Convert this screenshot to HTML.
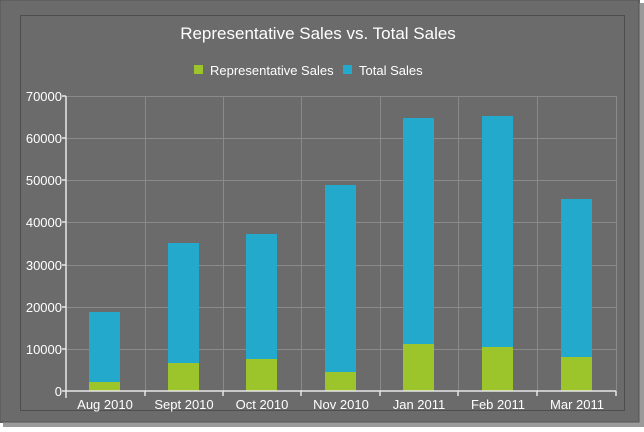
<!DOCTYPE html>
<html><head><style>
body{margin:0;width:644px;height:427px;background:#fff;overflow:hidden}
</style></head><body>
<svg width="644" height="427" xmlns="http://www.w3.org/2000/svg" font-family="Liberation Sans, DejaVu Sans, sans-serif">
<rect x="0" y="0" width="640" height="423" fill="#6b6b6b"/>
<rect x="638" y="3" width="6" height="424" fill="#9a9a9a"/>
<rect x="3" y="421" width="641" height="6" fill="#9a9a9a"/>
<rect x="0" y="0" width="639" height="422" fill="#6b6b6b" stroke="#555" stroke-width="1"/>
<rect x="20.5" y="15.5" width="604" height="395" fill="#6b6b6b" stroke="#4e4e4e" stroke-width="1"/>
<text x="318" y="39" fill="#fff" font-size="17" text-anchor="middle">Representative Sales vs. Total Sales</text>
<rect x="194" y="65" width="9" height="9" fill="#9bc52a"/>
<text x="210" y="75" fill="#fff" font-size="13">Representative Sales</text>
<rect x="343" y="65" width="9" height="9" fill="#22a9cb"/>
<text x="359" y="75" fill="#fff" font-size="13">Total Sales</text>
<g stroke="#8a8a8a" stroke-width="1">
<line x1="66" y1="96.5" x2="616" y2="96.5"/>
<line x1="66" y1="138.5" x2="616" y2="138.5"/>
<line x1="66" y1="180.5" x2="616" y2="180.5"/>
<line x1="66" y1="222.5" x2="616" y2="222.5"/>
<line x1="66" y1="265.5" x2="616" y2="265.5"/>
<line x1="66" y1="307.5" x2="616" y2="307.5"/>
<line x1="66" y1="349.5" x2="616" y2="349.5"/>
<line x1="145.5" y1="96" x2="145.5" y2="391"/>
<line x1="223.5" y1="96" x2="223.5" y2="391"/>
<line x1="301.5" y1="96" x2="301.5" y2="391"/>
<line x1="380.5" y1="96" x2="380.5" y2="391"/>
<line x1="458.5" y1="96" x2="458.5" y2="391"/>
<line x1="537.5" y1="96" x2="537.5" y2="391"/>
<line x1="616.5" y1="96" x2="616.5" y2="391"/>
</g>
<g fill="#22a9cb">
<rect x="89" y="312" width="31" height="79"/>
<rect x="168" y="243" width="31" height="148"/>
<rect x="246" y="234" width="31" height="157"/>
<rect x="325" y="185" width="31" height="206"/>
<rect x="403" y="118" width="31" height="273"/>
<rect x="482" y="116" width="31" height="275"/>
<rect x="561" y="199" width="31" height="192"/>
</g>
<g fill="#9bc52a">
<rect x="89" y="382" width="31" height="9"/>
<rect x="168" y="363" width="31" height="28"/>
<rect x="246" y="359" width="31" height="32"/>
<rect x="325" y="372" width="31" height="19"/>
<rect x="403" y="344" width="31" height="47"/>
<rect x="482" y="347" width="31" height="44"/>
<rect x="561" y="357" width="31" height="34"/>
</g>
<g stroke="#e8e8e8" stroke-width="1.5">
<line x1="66" y1="96" x2="66" y2="398"/>
<line x1="62" y1="391" x2="616" y2="391"/>
<line x1="62" y1="96" x2="66" y2="96"/><line x1="62" y1="138" x2="66" y2="138"/><line x1="62" y1="180" x2="66" y2="180"/><line x1="62" y1="222" x2="66" y2="222"/><line x1="62" y1="265" x2="66" y2="265"/><line x1="62" y1="307" x2="66" y2="307"/><line x1="62" y1="349" x2="66" y2="349"/>
<line x1="145" y1="391" x2="145" y2="396"/><line x1="223" y1="391" x2="223" y2="396"/><line x1="301" y1="391" x2="301" y2="396"/><line x1="380" y1="391" x2="380" y2="396"/><line x1="458" y1="391" x2="458" y2="396"/><line x1="537" y1="391" x2="537" y2="396"/><line x1="616" y1="391" x2="616" y2="396"/>
</g>
<g fill="#fff" font-size="13" text-anchor="end">
<text x="62" y="101">70000</text><text x="62" y="143">60000</text><text x="62" y="185">50000</text><text x="62" y="227">40000</text><text x="62" y="270">30000</text><text x="62" y="312">20000</text><text x="62" y="354">10000</text><text x="62" y="396">0</text>
</g>
<g fill="#fff" font-size="13" text-anchor="middle">
<text x="105" y="409">Aug 2010</text><text x="184" y="409">Sept 2010</text><text x="262" y="409">Oct 2010</text><text x="341" y="409">Nov 2010</text><text x="419" y="409">Jan 2011</text><text x="498" y="409">Feb 2011</text><text x="577" y="409">Mar 2011</text>
</g>
</svg>
</body></html>
